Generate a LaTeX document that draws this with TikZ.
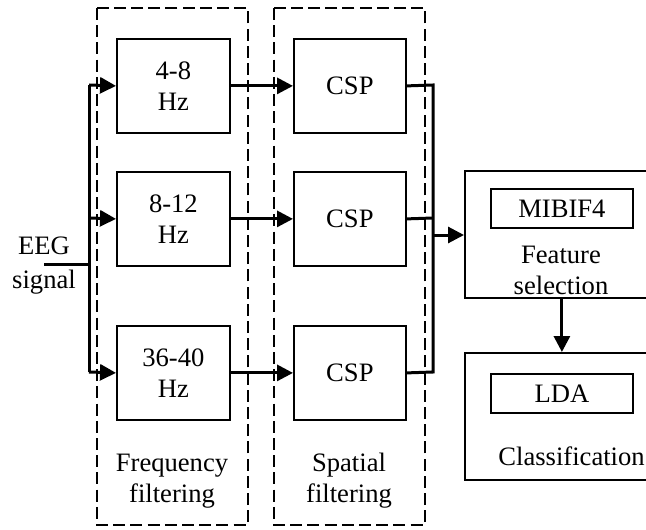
\documentclass[tikz,border=0pt]{standalone}
\usepackage{fontspec}
\setmainfont{Liberation Serif}
\usetikzlibrary{arrows.meta}
\begin{document}
\begin{tikzpicture}[x=0.5pt,y=-0.5pt,
  font=\fontsize{13.3pt}{15.5pt}\selectfont,
  block/.style={draw,line width=0.9pt,inner sep=0pt,anchor=north west},
  group/.style={draw,line width=0.7pt,dash pattern=on 6pt off 2.6pt},
  wire/.style={line width=1.5pt},
  flow/.style={line width=1.5pt,-{Triangle[length=8pt,width=8pt]}},
  lbl/.style={align=center,inner sep=0pt}]
\useasboundingbox (0,0) rectangle (646,529);
\clip (0,0) rectangle (646,529);

% dashed stage frames
\draw[group] (97,8) rectangle (248,525);
\draw[group] (274,8) rectangle (425,525);
\node[lbl] (flab) at (172,481) {Frequency\\filtering};
\node[lbl] (slab) at (349,481) {Spatial\\filtering};

% band-pass filters
\node[block,minimum width=56.5pt,minimum height=47pt] (f1) at (116,38) {};
\node[block,minimum width=56.5pt,minimum height=47pt] (f2) at (116,171) {};
\node[block,minimum width=56.5pt,minimum height=47pt] (f3) at (116,325) {};
\node[lbl] at (f1.center) {4-8\\Hz};
\node[lbl] at (f2.center) {8-12\\Hz};
\node[lbl] at (f3.center) {36-40\\Hz};

% CSP blocks
\node[block,minimum width=56pt,minimum height=47pt] (c1) at (293,38) {CSP};
\node[block,minimum width=56pt,minimum height=47pt] (c2) at (293,171) {CSP};
\node[block,minimum width=56pt,minimum height=47pt] (c3) at (293,325) {CSP};

% feature selection and classification
\node[block,minimum width=120pt,minimum height=63.5pt] (fs) at (464,170) {};
\node[block,minimum width=71pt,minimum height=19.5pt] (mib) at (490,188) {MIBIF4};
\node[lbl] (fst) at (561,270) {Feature\\selection};
\node[block,minimum width=120pt,minimum height=63.5pt] (cl) at (464,352) {};
\node[block,minimum width=71pt,minimum height=19.5pt] (lda) at (490,373) {LDA};
\node[lbl,anchor=west] (clt) at (498,456) {Classification};

% input signal
\node[lbl] (eeg) at (44,266) {EEG\\[1.5pt]signal};
\coordinate (in) at (44,264);
\coordinate (tr) at (89,264);
\coordinate (ttop) at (89,85);
\coordinate (tbot) at (89,372);
\draw[wire] (in) -- (tr);
\draw[wire] (ttop) -- (tbot);
\draw[flow] (ttop) -- (f1.west);
\draw[flow] (89,218) -- (f2.west);
\draw[flow] (tbot) -- (f3.west);

% filter to CSP
\draw[flow] (f1.east) -- (c1.west);
\draw[flow] (f2.east) -- (c2.west);
\draw[flow] (f3.east) -- (c3.west);

% CSP outputs merged into feature selection
\coordinate (mtop) at (433,85);
\coordinate (mbot) at (433,372);
\draw[wire] (c1.east) -- (mtop) -- (mbot) -- (c3.east);
\draw[wire] (c2.east) -- (433,218);
\draw[flow] (433,235) -- (fs.west |- 0,235);
\draw[flow] (fs.south -| mib.south) -- (cl.north -| mib.south);
\end{tikzpicture}
\end{document}
